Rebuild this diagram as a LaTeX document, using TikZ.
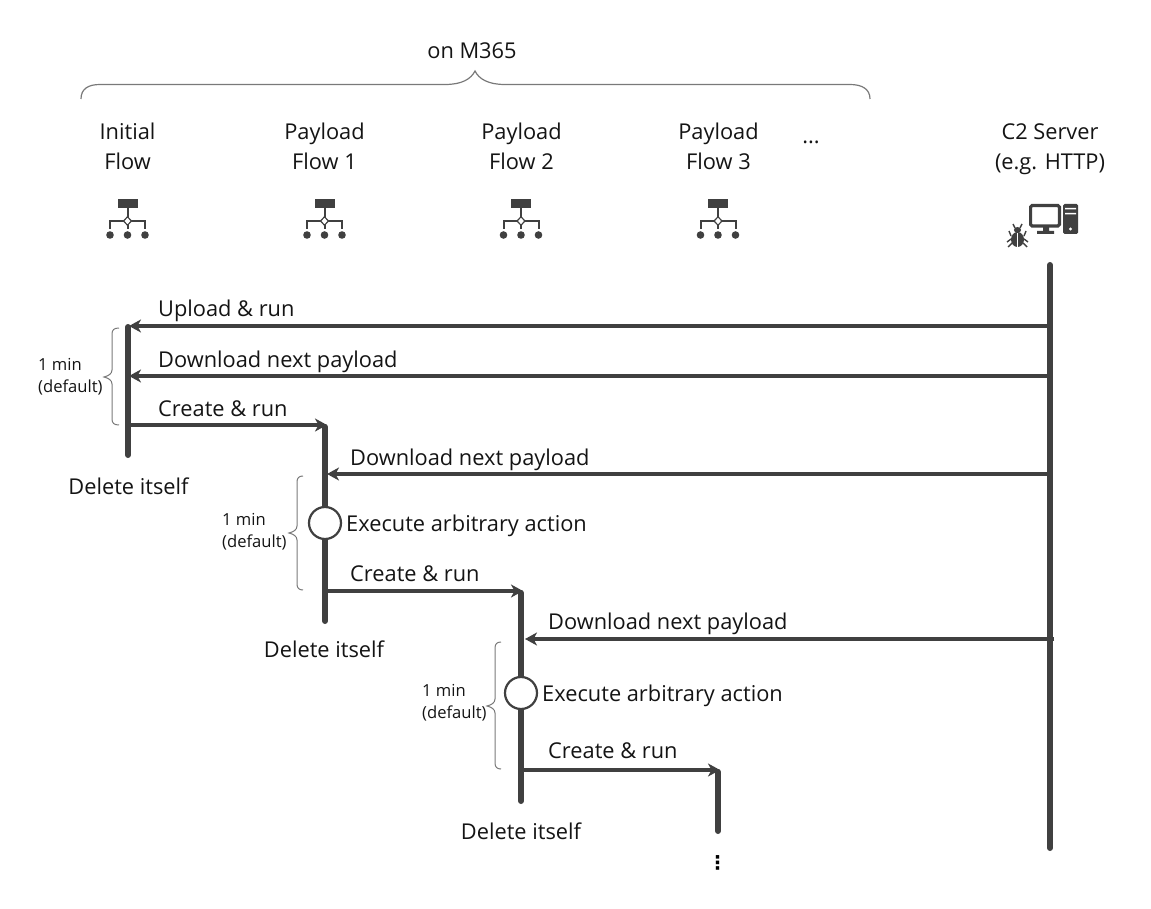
\documentclass[tikz,border=0pt]{standalone}
\usepackage{fontspec}
\setmainfont{Open Sans}
\newfontfamily\symfont{DejaVu Sans}
\usetikzlibrary{arrows.meta}
\definecolor{ink}{HTML}{404040}
\tikzset{
  x=1pt,y=-1pt,
  life/.style={draw=ink,line width=6pt,line cap=round},
  msg/.style={draw=ink,line width=4pt,-{Stealth[length=12pt,width=13pt,inset=3.5pt]}},
  lbl/.style={font=\fontsize{21.8}{24}\selectfont,text=black!92,inner sep=0pt,anchor=base west},
  head/.style={font=\fontsize{21.8}{30}\selectfont,text=black!92,inner sep=0pt,align=center},
  small/.style={font=\fontsize{16.6}{22}\selectfont,text=black!92,inner sep=0pt,align=left,anchor=west},
  brace/.style={draw=ink!70,line width=1pt},
  act/.style={circle,draw=ink,fill=white,line width=2.2pt,minimum size=32pt,inner sep=0pt},
  flowicon/.pic={
    \fill[ink] (-10.5,-21.5) rectangle (9.5,-12.5);
    \draw[ink,line width=2pt] (-0.5,-12.5) -- (-0.5,-1);
    \draw[ink,line width=2pt] (-18,8) -- (-18,0) -- (17,0) -- (17,8);
    \draw[ink,line width=2pt] (-0.5,0) -- (-0.5,8);
    \fill[ink] (-18,14) circle (3.8) (-0.5,14) circle (3.8) (17,14) circle (3.8);
    \draw[ink,fill=white,line width=1.2pt] (-0.5,-4.2) -- (3.5,0) -- (-0.5,4.2) -- (-4.5,0) -- cycle;
  }
}
\begin{document}
\begin{tikzpicture}
\useasboundingbox (0,0) rectangle (1151,909);
% top brace
\draw[brace,line width=1.2pt] (81,99) .. controls (81,89) and (88,84.5) .. (100,84.5) -- (445,84.5) .. controls (462,84.5) and (471,79) .. (475,71) .. controls (479,79) and (488,84.5) .. (505,84.5) -- (850,84.5) .. controls (862,84.5) and (870,89) .. (870,99);
\node[head] (m365) at (472,51) {on M365};
% headers
\node[head] (h0) at (127.5,146) {Initial\\Flow};
\node[head] (h1) at (324.5,146) {Payload\\Flow 1};
\node[head] (h2) at (521.5,146) {Payload\\Flow 2};
\node[head] (h3) at (718.5,146) {Payload\\Flow 3};
\node[head] (dots) at (811,142) {...};
\node[head] (hc) at (1050,149) {C2 Server\\(e.g. HTTP)};
% icons
\pic at (128,221) {flowicon};
\pic at (325,221) {flowicon};
\pic at (521.5,221) {flowicon};
\pic at (718.5,221) {flowicon};
% computer icon
\draw[ink,line width=3.2pt,rounded corners=1.5pt] (1030.6,205.6) rectangle (1059.4,226);
\fill[ink] (1043,227) rectangle (1049,231) (1037,231) rectangle (1054,234);
\fill[ink,rounded corners=1.5pt] (1063,204) rectangle (1078,234);
\fill[white] (1065,208) rectangle (1076,209.5) (1065,213) rectangle (1076,214.5) (1070.5,229) circle (1.6);
% bug icon
\fill[ink] (1017.5,230) ellipse (3.6 and 3);
\fill[ink] (1017.5,239.5) ellipse (6.5 and 7.5);
\draw[white,line width=0.8pt] (1017.5,233.5) -- (1017.5,247);
\draw[ink,line width=1.4pt]
 (1015,228) -- (1013,224) (1020,228) -- (1022,224)
 (1011,236) -- (1009,231) (1024,236) -- (1026,231)
 (1011,239) -- (1007,242) (1024,239) -- (1028,242)
 (1012,243) -- (1008,247) (1023,243) -- (1027,247);
% lifelines
\coordinate (c0) at (1050,265); \coordinate (c9) at (1050,848);
\coordinate (i0) at (128,327);  \coordinate (i9) at (128,455);
\coordinate (a0) at (325,427);  \coordinate (a9) at (325,621);
\coordinate (b0) at (521,593);  \coordinate (b9) at (521,801);
\coordinate (d0) at (718,772);  \coordinate (d9) at (718,831);
\draw[life] (c0) -- (c9);
\draw[life] (i0) -- (i9);
\draw[life] (a0) -- (a9);
\draw[life] (b0) -- (b9);
\draw[life] (d0) -- (d9);
% message endpoints
\coordinate (m1s) at (1050,326); \coordinate (m1e) at (129,326);
\coordinate (m2s) at (1050,376); \coordinate (m2e) at (129,376);
\coordinate (m3s) at (128,425);  \coordinate (m3e) at (327,425);
\coordinate (m4s) at (1050,474); \coordinate (m4e) at (327,474);
\coordinate (m5s) at (325,591);  \coordinate (m5e) at (523,591);
\coordinate (m6s) at (1054,639); \coordinate (m6e) at (525,639);
\coordinate (m7s) at (521,770);  \coordinate (m7e) at (720,770);
\draw[msg] (m1s) -- (m1e);
\draw[msg] (m2s) -- (m2e);
\draw[msg] (m3s) -- (m3e);
\draw[msg] (m4s) -- (m4e);
\draw[msg] (m5s) -- (m5e);
\draw[msg] (m6s) -- (m6e);
\draw[msg] (m7s) -- (m7e);
% activity circles
\node[act] (x1) at (325,523) {};
\node[act] (x2) at (521,693) {};
% labels
\node[lbl] (t1) at (158,316.5) {Upload \& run};
\node[lbl] (t2) at (158,367) {Download next payload};
\node[lbl] (t3) at (158,416) {Create \& run};
\node[lbl] (t4) at (350,465) {Download next payload};
\node[lbl] (t5) at (346,531) {Execute arbitrary action};
\node[lbl] (t6) at (350,581) {Create \& run};
\node[lbl] (t7) at (548,629) {Download next payload};
\node[lbl] (t8) at (542,701) {Execute arbitrary action};
\node[lbl] (t9) at (548,758) {Create \& run};
\node[head] (del1) at (128.5,486) {Delete itself};
\node[head] (del2) at (324,649) {Delete itself};
\node[head] (del3) at (521,831) {Delete itself};
\node[inner sep=0pt,font=\symfont\bfseries\fontsize{19}{19}\selectfont,text=black] (vd) at (717.5,863) {⋮};
% small braces
\draw[brace] (119,328) .. controls (114,328) and (112,330) .. (112,334) -- (112,370) .. controls (112,374) and (108,376) .. (104,377) .. controls (108,378) and (112,380) .. (112,384) -- (112,419) .. controls (112,423) and (114,425) .. (119,425);
\draw[brace] (303,476) .. controls (299,476) and (297,478) .. (297,482) -- (297,526) .. controls (297,530) and (293,532) .. (289,533) .. controls (293,534) and (297,536) .. (297,540) -- (297,584) .. controls (297,588) and (299,590) .. (303,590);
\draw[brace] (501,642) .. controls (497,642) and (495,644) .. (495,648) -- (495,699) .. controls (495,703) and (491,705) .. (487,706) .. controls (491,707) and (495,709) .. (495,713) -- (495,763) .. controls (495,767) and (497,769) .. (501,769);
\node[small] (s1) at (38,377) {1 min\\(default)};
\node[small] (s2) at (222,532) {1 min\\(default)};
\node[small] (s3) at (422,703) {1 min\\(default)};
\end{tikzpicture}
\end{document}
